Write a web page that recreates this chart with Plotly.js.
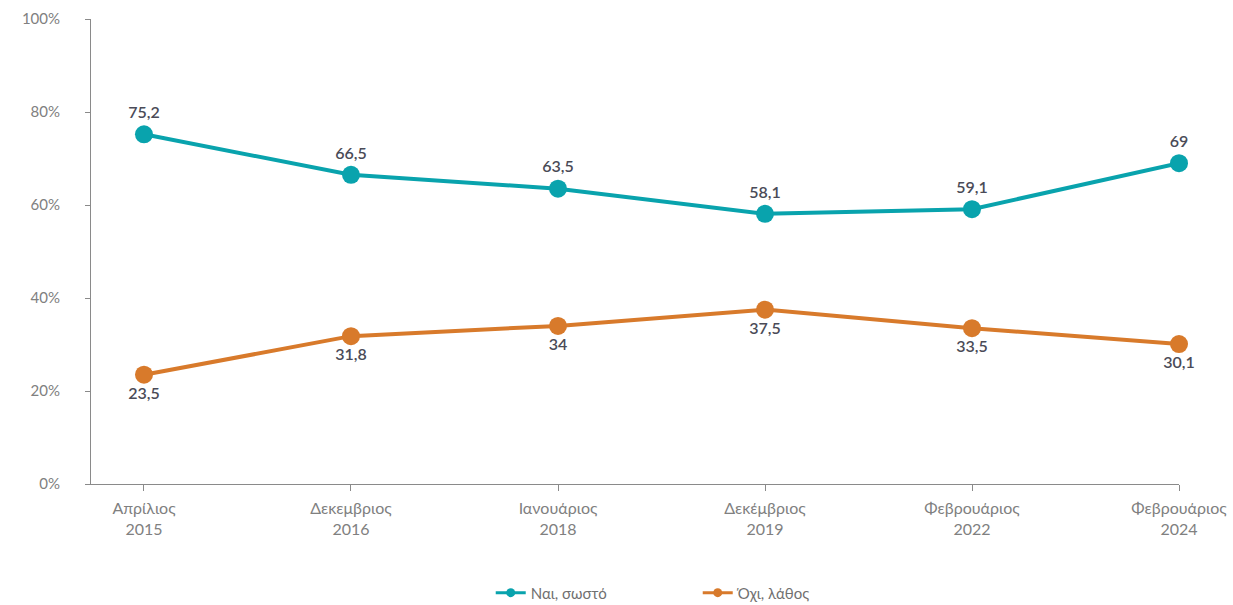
<!DOCTYPE html>
<html>
<head>
<meta charset="utf-8">
<script src="https://cdn.plot.ly/plotly-3.0.1.min.js"></script>
<style>html,body{margin:0;padding:0;background:#fff;}#chart{width:1233px;height:605px;}</style>
</head>
<body>
<div id="chart"></div>
<script>
const categories = ["Απρίλιος<br>2015", "Δεκεμβριος<br>2016", "Ιανουάριος<br>2018", "Δεκέμβριος<br>2019", "Φεβρουάριος<br>2022", "Φεβρουάριος<br>2024"];
const yesValues = [75.2, 66.5, 63.5, 58.1, 59.1, 69];
const noValues = [23.5, 31.8, 34, 37.5, 33.5, 30.1];
const yesName = "Ναι, σωστό";
const noName = "Όχι, λάθος";
const yTickVals = [0, 20, 40, 60, 80, 100];
const yTickText = ["0%", "20%", "40%", "60%", "80%", "100%"];

const idx = categories.map((_, i) => i);
const fmt = v => String(v).replace(".", ",");
const FONT = "Lato, 'Noto Sans', sans-serif";
const TEAL = "#09A3AD", ORANGE = "#D87A2B";

function series(values, name, color, pos) {
  return {
    x: idx, y: values, name: name, type: "scatter", mode: "lines+markers+text",
    line: {color: color, width: 4},
    marker: {color: color, size: 18},
    text: values.map(fmt), textposition: pos,
    textfont: {family: FONT, size: 16, color: "#4a4b57", weight: 600},
    cliponaxis: false, showlegend: false
  };
}
function legendEntry(name, color) {
  return {
    x: [null], y: [null], name: name, type: "scatter", mode: "lines+markers",
    line: {color: color, width: 3}, marker: {color: color, size: 9}, showlegend: true
  };
}

const traces = [
  series(yesValues, yesName, TEAL, "top center"),
  series(noValues, noName, ORANGE, "bottom center"),
  legendEntry(yesName, TEAL),
  legendEntry(noName, ORANGE)
];

const layout = {
  width: 1233, height: 605,
  margin: {l: 91, r: 54, t: 19, b: 121},
  paper_bgcolor: "#fff", plot_bgcolor: "#fff",
  font: {family: FONT, color: "#808080", size: 15},
  showlegend: true,
  legend: {orientation: "h", x: 0.398, xref: "container", xanchor: "left",
           y: 0.02, yref: "container", yanchor: "middle",
           entrywidth: 162, entrywidthmode: "pixels",
           font: {family: FONT, size: 15, color: "#707070"}},
  xaxis: {
    tickmode: "array", tickvals: idx, ticktext: categories,
    range: [-0.256, 5], showgrid: false, zeroline: false,
    showline: true, linecolor: "#8a8a8a", linewidth: 1,
    ticks: "outside", ticklen: 6, tickcolor: "#8a8a8a", ticklabelstandoff: 4,
    tickfont: {family: FONT, size: 16, color: "#808080"}, fixedrange: true
  },
  yaxis: {
    range: [0, 100], tickmode: "array", tickvals: yTickVals, ticktext: yTickText,
    showgrid: false, zeroline: false,
    showline: true, linecolor: "#8a8a8a", linewidth: 1,
    ticks: "outside", ticklen: 5, tickcolor: "#8a8a8a", ticklabelstandoff: 22,
    tickfont: {family: FONT, size: 15, color: "#808080"}, fixedrange: true
  }
};

Plotly.newPlot("chart", traces, layout, {displayModeBar: false, staticPlot: true});
</script>
</body>
</html>
